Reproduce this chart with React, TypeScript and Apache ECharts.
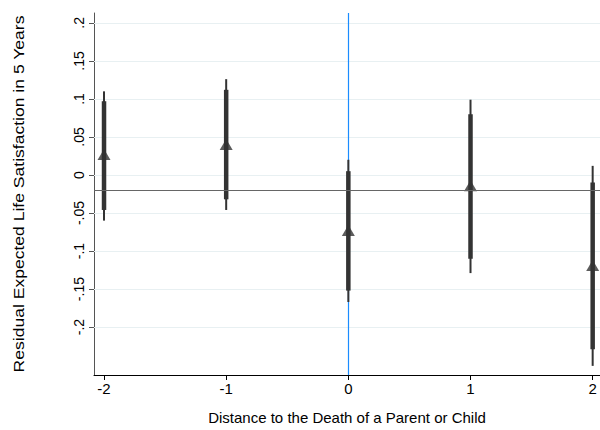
import React, { useEffect, useRef } from "react";
import * as echarts from "echarts";

// distance to the event (years)
const distances = [-2, -1, 0, 1, 2];
// point estimates
const estimates = [0.027, 0.04, -0.073, -0.014, -0.119];
// inner (thick) interval
const innerLow = [-0.046, -0.032, -0.152, -0.11, -0.229];
const innerHigh = [0.097, 0.112, 0.005, 0.08, -0.01];
// outer (thin) interval
const outerLow = [-0.06, -0.046, -0.167, -0.129, -0.251];
const outerHigh = [0.11, 0.126, 0.02, 0.099, 0.012];

const yTicks = [0.2, 0.15, 0.1, 0.05, 0, -0.05, -0.1, -0.15, -0.2];
const yTickLabels = [".2", ".15", ".1", ".05", "0", "-.05", "-.1", "-.15", "-.2"];
const xTicks = [-2, -1, 0, 1, 2];

const meanLine = -0.0162;
const eventLine = 0;

const yTitle = "Residual Expected Life Satisfaction in 5 Years";
const xTitle = "Distance to the Death of a Parent or Child";

const FONT = "'Liberation Sans', Arial, sans-serif";

const spike = (lo: number[], hi: number[], width: number) => ({
  type: "custom" as const,
  silent: true,
  z: 3,
  data: distances.map((d, i) => [d, lo[i], hi[i]]),
  encode: { x: 0, y: [1, 2] },
  renderItem: (_params: any, api: any) => {
    const a = api.coord([api.value(0), api.value(1)]);
    const b = api.coord([api.value(0), api.value(2)]);
    return {
      type: "line",
      shape: { x1: a[0], y1: a[1], x2: b[0], y2: b[1] },
      style: { stroke: "#333333", lineWidth: width },
    };
  },
});

const App: React.FC = () => {
  const chartRef = useRef<HTMLDivElement>(null);

  useEffect(() => {
    if (!chartRef.current) return;
    const chart = echarts.init(chartRef.current, undefined, { renderer: "svg" });

    const option: echarts.EChartsOption = {
      animation: false,
      backgroundColor: "#ffffff",
      textStyle: { fontFamily: FONT },
      grid: { left: 94, right: 0, top: 13, bottom: 52 },
      // y title drawn as graphic text so it can be stretched like the original
      graphic: [
        {
          type: "text",
          x: 18,
          y: 194,
          rotation: Math.PI / 2,
          scaleX: 1.17,
          style: {
            text: yTitle,
            font: `15px ${FONT}`,
            fill: "#000",
            align: "center",
            verticalAlign: "middle",
          },
        },
      ],
      xAxis: {
        type: "value",
        min: -2.082,
        max: 2.06,
        name: xTitle,
        nameLocation: "middle",
        nameGap: 35,
        nameTextStyle: { fontSize: 15, color: "#000", fontFamily: FONT },
        axisLine: { show: true, onZero: false, lineStyle: { color: "#000", width: 1 } },
        axisTick: { show: true, length: 5, lineStyle: { color: "#000" }, customValues: xTicks },
        axisLabel: {
          fontSize: 15,
          color: "#000",
          fontFamily: FONT,
          margin: 6,
          customValues: xTicks,
          formatter: (v: number) => String(v),
        },
        splitLine: { show: false },
      },
      yAxis: {
        type: "value",
        min: -0.263,
        max: 0.213,
        axisLine: { show: true, onZero: false, lineStyle: { color: "#555", width: 1 } },
        axisTick: { show: true, length: 5, lineStyle: { color: "#555" }, customValues: yTicks },
        axisLabel: {
          fontSize: 14,
          color: "#000",
          fontFamily: FONT,
          rotate: 90,
          margin: 8,
          customValues: yTicks,
          formatter: (v: number) => {
            const i = yTicks.findIndex((t) => Math.abs(t - v) < 1e-9);
            return i >= 0 ? yTickLabels[i] : "";
          },
        },
        splitLine: { show: false },
      },
      series: [
        {
          // light horizontal grid lines at the tick values
          type: "line",
          data: [],
          silent: true,
          z: 1,
          markLine: {
            z: 1,
            silent: true,
            symbol: "none",
            label: { show: false },
            lineStyle: { color: "#e8f0f2", width: 1, type: "solid" },
            data: yTicks.map((t) => ({ yAxis: t })),
          },
        },
        {
          type: "line",
          data: [],
          silent: true,
          z: 2,
          markLine: {
            z: 2,
            silent: true,
            symbol: "none",
            label: { show: false },
            data: [
              { xAxis: eventLine, lineStyle: { color: "#1a8cff", width: 1.2, type: "solid" } },
            ],
          },
        },
        spike(outerLow, outerHigh, 2),
        spike(innerLow, innerHigh, 4.5),
        {
          type: "scatter",
          symbol: "triangle",
          symbolSize: [13, 11],
          z: 4,
          silent: true,
          itemStyle: { color: "#333333" },
          data: distances.map((d, i) => [d, estimates[i]]),
          markLine: {
            z: 5,
            silent: true,
            symbol: "none",
            label: { show: false },
            data: [{ yAxis: meanLine, lineStyle: { color: "#666", width: 1, type: "solid" } }],
          },
        },
      ],
    };

    chart.setOption(option);
    return () => chart.dispose();
  }, []);

  return (
    <div
      ref={chartRef}
      style={{ width: 600, height: 430, position: "absolute", left: 0, top: 0 }}
    />
  );
};

export default App;
